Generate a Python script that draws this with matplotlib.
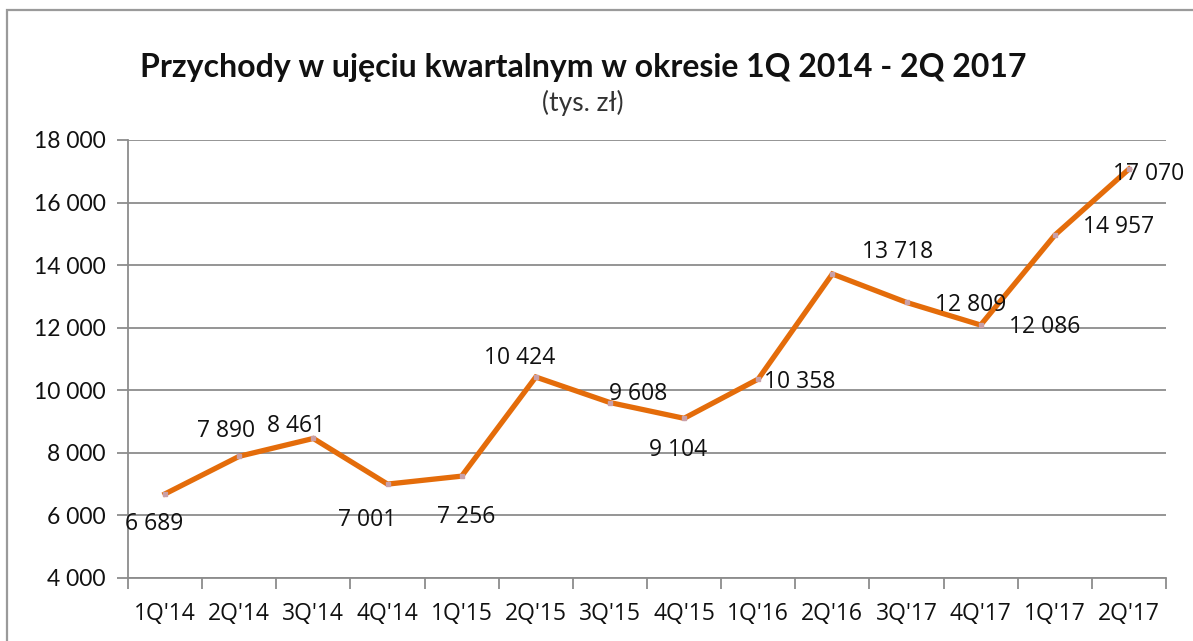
import matplotlib
matplotlib.use("Agg")
import matplotlib.pyplot as plt
from matplotlib.patches import Rectangle
from matplotlib.ticker import FixedLocator, NullFormatter

categories = ["1Q'14", "2Q'14", "3Q'14", "4Q'14", "1Q'15", "2Q'15", "3Q'15",
              "4Q'15", "1Q'16", "2Q'16", "3Q'17", "4Q'17", "1Q'17", "2Q'17"]
values = [6689, 7890, 8461, 7001, 7256, 10424, 9608,
          9104, 10358, 13718, 12809, 12086, 14957, 17070]
value_labels = ["6 689", "7 890", "8 461", "7 001", "7 256", "10 424", "9 608",
                "9 104", "10 358", "13 718", "12 809", "12 086", "14 957", "17 070"]
yticks = [4000, 6000, 8000, 10000, 12000, 14000, 16000, 18000]
ytick_labels = ["4 000", "6 000", "8 000", "10 000", "12 000", "14 000", "16 000", "18 000"]
# label offsets in pixels (dx, dy) relative to the point
label_offsets = [(-11, -30), (-13, 25), (-17, 12), (-20, -36), (5, -41), (-16, 19), (28, 9),
                 (-6, -32), (41, -3), (65, 22), (64, -3), (64, -2), (64, 8), (20, -5)]

W, H = 1193, 641
fig = plt.figure(figsize=(W / 100, H / 100), dpi=100)
fig.patch.set_facecolor("white")

# outer chart border
fig.patches.append(Rectangle((7 / W, -0.1), 1.2, 1 - 10 / H + 0.1, transform=fig.transFigure,
                             fill=False, edgecolor="#9a9a9a", linewidth=1.6))

ax = fig.add_axes([128 / W, 1 - 578 / H, (1166 - 128) / W, (578 - 140) / H])
grid_c = "#8c8c8c"

xs = [i + 0.5 for i in range(len(categories))]
ax.plot(xs, values, color="#E46C0A", linewidth=3.8, solid_joinstyle="miter",
        marker="s", markersize=3.2, markerfacecolor="#C9A0A8", markeredgecolor="#C9A0A8", zorder=3)

ax.set_xlim(0, len(categories))
ax.set_ylim(4000, 18000)
ax.set_yticks(yticks)
ax.set_yticklabels(ytick_labels)
ax.yaxis.grid(True, color=grid_c, linewidth=1.3)
ax.set_axisbelow(True)

ax.xaxis.set_major_locator(FixedLocator(list(range(len(categories) + 1))))
ax.xaxis.set_major_formatter(NullFormatter())
ax.xaxis.set_minor_locator(FixedLocator(xs))
ax.set_xticklabels(categories, minor=True)
ax.tick_params(axis="x", which="major", length=8, width=1.3, color=grid_c, direction="out")
ax.tick_params(axis="x", which="minor", length=0, pad=17, labelsize=16.5, labelcolor="#111111")
ax.tick_params(axis="y", length=8, width=1.3, color=grid_c, pad=8, labelsize=16.5, labelcolor="#111111")
for lbl in ax.get_xticklabels(minor=True):
    lbl.set_fontfamily("Open Sans")
for lbl in ax.get_yticklabels():
    lbl.set_fontfamily("Lato")

for s in ["top", "right"]:
    ax.spines[s].set_visible(False)
for s in ["left", "bottom"]:
    ax.spines[s].set_color(grid_c)
    ax.spines[s].set_linewidth(1.3)

for x, v, t, (dx, dy) in zip(xs, values, value_labels, label_offsets):
    ax.annotate(t, (x, v), xytext=(dx, dy), textcoords="offset pixels",
                ha="center", va="center", fontsize=16.5, fontfamily="Open Sans",
                color="#111111", zorder=4)

fig.text(583 / W, 1 - 68 / H, "Przychody w ujęciu kwartalnym w okresie 1Q 2014 - 2Q 2017",
         ha="center", va="center", fontsize=23, fontweight="bold", fontfamily="Lato", color="#111111")
fig.text(583 / W, 1 - 103 / H, "(tys. zł)", ha="center", va="center", fontsize=19,
         fontweight="normal", fontfamily="Lato", color="#333333")

fig.savefig("out.png", dpi=100)
